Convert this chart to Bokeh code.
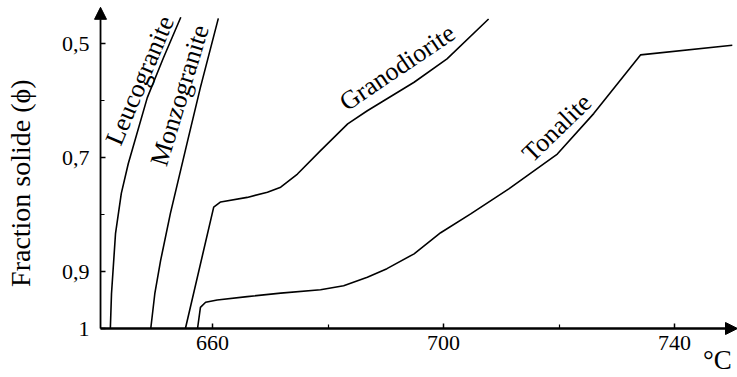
from bokeh.plotting import figure
from bokeh.models import Range1d, FixedTicker, Arrow, NormalHead, ColumnDataSource
from bokeh.core.properties import value
from bokeh.embed import file_html
from bokeh.resources import INLINE
import math

# ---- data (temperature °C, solid fraction phi) ----
leuco_T = [642.3, 642.5, 643.2, 644.2, 645.4, 648.7, 651.5, 654.5]
leuco_phi = [1.0, 0.939, 0.833, 0.763, 0.711, 0.595, 0.525, 0.454]

monzo_T = [649.3, 650.0, 651.0, 652.7, 655.7, 657.9, 661.0]
monzo_phi = [1.0, 0.939, 0.881, 0.798, 0.670, 0.577, 0.456]

grano_T = [655.3, 660.2, 661.4, 666.0, 669.5, 671.8, 674.7, 678.7, 683.4, 686.8, 694.9, 700.6, 707.8]
grano_phi = [1.0, 0.787, 0.778, 0.770, 0.761, 0.752, 0.729, 0.688, 0.641, 0.618, 0.568, 0.527, 0.457]

tonal_T = [657.4, 657.9, 658.8, 660.8, 666.0, 671.8, 678.7, 682.7, 686.8, 690.2, 694.9, 699.5,
           704.7, 711.3, 719.7, 726.0, 734.1, 750.0]
tonal_phi = [1.0, 0.963, 0.954, 0.950, 0.944, 0.938, 0.932, 0.925, 0.910, 0.895, 0.869, 0.832,
             0.799, 0.755, 0.694, 0.623, 0.520, 0.503]

names = ["Leucogranite", "Monzogranite", "Granodiorite", "Tonalite"]
label_T = [647.4, 654.3, 692.0, 719.6]
label_phi = [0.565, 0.591, 0.542, 0.648]
label_angle_deg = [67, 73, 34, 44]

x_ticks = [660, 700, 740]
x_minor = [680, 720]
y_ticks = [0.5, 0.7, 0.9, 1.0]
y_minor = [0.6, 0.8]
y_tick_labels = ["0,5", "0,7", "0,9", "1"]

y_title = "Fraction solide (\u03d5)"
x_unit = "\u00b0C"

# axis origin and arrow tips
AX_T, AX_PHI = 640.6, 1.0
X_TIP, Y_TIP = 750.9, 0.4365

SERIF = "Liberation Serif"

p = figure(width=737, height=377,
           x_range=Range1d(623.28, 750.9), y_range=Range1d(1.08596, 0.42456),
           output_backend="svg", toolbar_location=None,
           min_border_left=0, min_border_right=0, min_border_top=0, min_border_bottom=0)
p.outline_line_color = None
p.xgrid.visible = False
p.ygrid.visible = False
p.background_fill_color = "white"
p.border_fill_color = "white"

for ax in (p.xaxis[0], p.yaxis[0]):
    ax.axis_line_color = None
    ax.major_tick_in = 5
    ax.major_tick_out = 0
    ax.minor_tick_in = 4
    ax.minor_tick_out = 0
    ax.major_tick_line_color = "black"
    ax.minor_tick_line_color = "black"
    ax.major_tick_line_width = 1.5
    ax.minor_tick_line_width = 1.2
    ax.major_label_text_font = SERIF
    ax.major_label_text_font_size = "22px"
    ax.major_label_text_color = "black"

p.xaxis.fixed_location = AX_PHI
p.yaxis.fixed_location = AX_T
p.xaxis.ticker = FixedTicker(ticks=x_ticks, minor_ticks=x_minor)
p.yaxis.ticker = FixedTicker(ticks=y_ticks, minor_ticks=y_minor)
p.yaxis.major_label_overrides = {t: s for t, s in zip(y_ticks, y_tick_labels)}
p.xaxis.major_label_standoff = 7
p.yaxis.major_label_standoff = 11

# axes with arrows
p.add_layout(Arrow(end=NormalHead(size=12, fill_color="black", line_color="black"),
                   x_start=AX_T, y_start=AX_PHI, x_end=X_TIP, y_end=AX_PHI,
                   line_width=2.4, line_color="black"))
p.add_layout(Arrow(end=NormalHead(size=12, fill_color="black", line_color="black"),
                   x_start=AX_T, y_start=AX_PHI, x_end=AX_T, y_end=Y_TIP,
                   line_width=1.8, line_color="black"))

for T, phi in [(leuco_T, leuco_phi), (monzo_T, monzo_phi), (grano_T, grano_phi), (tonal_T, tonal_phi)]:
    p.line(T, phi, line_color="black", line_width=1.6)

src = ColumnDataSource(dict(x=label_T, y=label_phi, text=names,
                            angle=[math.radians(a) for a in label_angle_deg]))
p.text(x="x", y="y", text="text", angle="angle", source=src,
       text_font=value(SERIF), text_font_size="26px", text_color="black",
       text_align="center", text_baseline="middle")

p.text(x=[626.75], y=[0.745], text=[y_title], angle=math.pi / 2,
       text_font=value(SERIF), text_font_size="28px", text_color="black",
       text_align="center", text_baseline="middle")
p.text(x=[749.9], y=[1.056], text=[x_unit],
       text_font=value(SERIF), text_font_size="27px", text_color="black",
       text_align="right", text_baseline="middle")

open("out.html", "w").write(file_html(p, INLINE))
